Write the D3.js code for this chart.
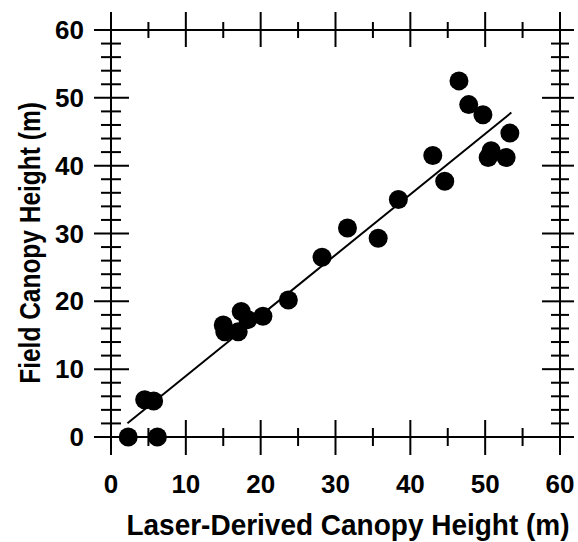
<!DOCTYPE html>
<html><head><meta charset="utf-8">
<script src="https://cdn.jsdelivr.net/npm/d3@7"></script>
<style>body{margin:0;background:#fff}svg{display:block}text{font-family:"Liberation Sans",Arial,sans-serif;font-weight:bold;fill:#000}</style>
</head><body><svg id="c" width="578" height="542"></svg>
<script>
const laserHeight = [2.3, 6.2, 4.5, 5.7, 15.0, 15.2, 17.0, 17.4, 18.3, 20.3, 23.7, 28.2, 31.6, 35.7, 38.4, 43.0, 44.6, 46.5, 47.8, 49.7, 50.4, 50.8, 52.8, 53.3];
const fieldHeight = [0, 0, 5.5, 5.3, 16.5, 15.5, 15.5, 18.5, 17.3, 17.8, 20.2, 26.5, 30.8, 29.3, 35.0, 41.5, 37.7, 52.5, 49.0, 47.5, 41.2, 42.2, 41.2, 44.8];
const fitLine = {slope: 0.893, intercept: 0.05, xStart: 2.2, xEnd: 53.5};
const xTicks = [0, 10, 20, 30, 40, 50, 60];
const yTicks = [0, 10, 20, 30, 40, 50, 60];
const xLabel = "Laser-Derived Canopy Height (m)";
const yLabel = "Field Canopy Height (m)";

const svg = d3.select("#c");
const x = d3.scaleLinear().domain([0, 60]).range([111, 560]);
const y = d3.scaleLinear().domain([0, 60]).range([437, 30]);

const g = svg.append("g");
const frame = [[0,0,60,0],[0,60,60,60],[0,0,0,60],[60,0,60,60]];
g.selectAll("line.frame").data(frame).join("line")
  .attr("x1", d => x(d[0])).attr("y1", d => y(d[1]))
  .attr("x2", d => x(d[2])).attr("y2", d => y(d[3]))
  .attr("stroke", "#000").attr("stroke-width", 2);

const xMinor = d3.range(5, 60, 10);
const yMinor = d3.range(0, 61, 2).filter(v => v % 10 !== 0);

function hTicks(vals, yv, len1, len2) {
  g.selectAll(null).data(vals).join("line")
    .attr("x1", d => x(d)).attr("x2", d => x(d))
    .attr("y1", y(yv) - len1).attr("y2", y(yv) + len2)
    .attr("stroke", "#000").attr("stroke-width", 2);
}
function vTicks(vals, xv, len1, len2) {
  g.selectAll(null).data(vals).join("line")
    .attr("y1", d => y(d)).attr("y2", d => y(d))
    .attr("x1", x(xv) - len1).attr("x2", x(xv) + len2)
    .attr("stroke", "#000").attr("stroke-width", 2);
}
hTicks(xTicks, 0, 17, 18);
hTicks(xMinor, 0, 9, 9);
hTicks(xTicks, 60, 18, 17);
hTicks(xMinor, 60, 8, 8);
vTicks(yTicks, 0, 17, 18);
vTicks(yMinor, 0, 10, 10);
vTicks(yTicks, 60, 18, 14);
vTicks(yMinor, 60, 9, 9);

// tick labels
g.selectAll("text.xt").data(xTicks).join("text")
  .attr("transform", d => `translate(${x(d)},493)`).attr("text-anchor", "middle")
  .style("font-size", "26px").text(d => d);
g.selectAll("text.yt").data(yTicks).join("text")
  .attr("transform", d => `translate(84,${y(d) + 9})`).attr("text-anchor", "end")
  .style("font-size", "26px").text(d => d);

// titles
svg.append("text").attr("transform", "translate(348,535) scale(1,1.05)").attr("text-anchor", "middle")
  .style("font-size", "28px").text(xLabel);
svg.append("text").attr("transform", "translate(40,243) rotate(-90) scale(1,1.2)").attr("text-anchor", "middle")
  .style("font-size", "24.5px").text(yLabel);

// fit line
svg.append("line")
  .attr("x1", x(fitLine.xStart)).attr("y1", y(fitLine.slope * fitLine.xStart + fitLine.intercept))
  .attr("x2", x(fitLine.xEnd)).attr("y2", y(fitLine.slope * fitLine.xEnd + fitLine.intercept))
  .attr("stroke", "#000").attr("stroke-width", 2);

// points
svg.selectAll("circle").data(laserHeight.map((v, i) => [v, fieldHeight[i]])).join("circle")
  .attr("cx", d => x(d[0])).attr("cy", d => y(d[1])).attr("r", 9.5).attr("fill", "#000");
</script></body></html>
